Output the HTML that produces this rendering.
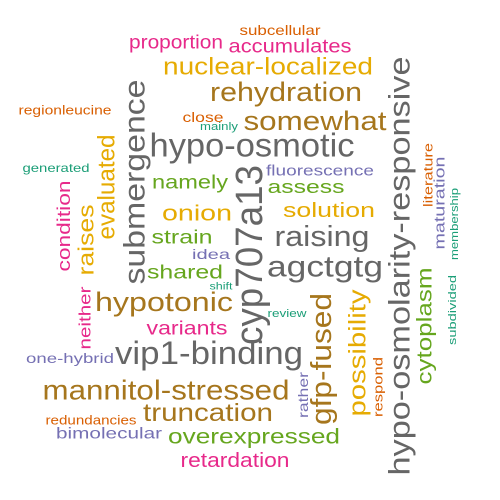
<!DOCTYPE html>
<html><head><meta charset="utf-8"><style>html,body{margin:0;padding:0;background:#fff}svg{display:block}text{font-family:"Liberation Sans",sans-serif}</style></head>
<body>
<svg id="cloud" width="500" height="500" viewBox="0 0 500 500"></svg>
<script>
const C={g:"#666666",b:"#A6761D",y:"#E6AB02",p:"#E7298A",o:"#D95F02",t:"#1B9E77",v:"#7570B3",n:"#66A61E"};
const words=["proportion","subcellular","accumulates","nuclear-localized","rehydration","somewhat","hypo-osmotic","regionleucine","close","mainly","generated","namely","fluorescence","assess","onion","solution","strain","raising","agctgtg","idea","shared","shift","hypotonic","variants","vip1-binding","one-hybrid","mannitol-stressed","truncation","redundancies","bimolecular","overexpressed","retardation","review","rather","respond","possibility","gfp-fused","hypo-osmolarity-responsive","cytoplasm","subdivided","membership","maturation","literature","cyp707a13","submergence","evaluated","raises","condition","neither"];
const colors=["p","o","p","y","b","b","g","o","o","t","t","n","v","n","y","y","n","g","g","v","n","t","b","p","g","v","b","b","o","v","n","p","t","v","o","y","b","g","n","t","t","v","o","g","g","y","y","p","p"];
const sizes=[19,14,19,24,27,27,33,13,14,11,12,19,15,18,22,20,19,29,30,14,19,10,27,19,32,14,28,25,13,16,21,20,11,14,13,24,29,30,21,11,11,15,13,38,30,24,22,18,17];
const cx=[176,280,290,268,286,315,252,65,203,219,56,190,320,306,197,329,182,322,325,211,185,221,164,187,209,70,166,208,91,109,254,235,287,303,378,358,322,400,425,453,455,440,428,250,135,107,86,64,85];
const cy=[43,30,47,67,92,121,145,110,117,127,168,183,171,187,213,211,238,237,267,254,273,287,302,329,353,358,390,413,420,434,437,461,314,395,387,353,359,266,326,310,224,203,175,255,182,187,240,226,318];
const rot=[0,0,0,0,0,0,0,0,0,0,0,0,0,0,0,0,0,0,0,0,0,0,0,0,0,0,0,0,0,0,0,0,0,1,1,1,1,1,1,1,1,1,1,1,1,1,1,1,1];
const lens=[94,81,123,210,152,143,205,93,41,38,67,76,108,77,70,92,61,95,116,38,76,23,138,81,188,88,247,130,91,106,172,109,39,46,60,127,132,419,117,70,72,93,64,180,205,105,71,91,63];
const svg=document.getElementById('cloud');
const NS="http://www.w3.org/2000/svg";
for(let i=0;i<words.length;i++){
  const t=document.createElementNS(NS,'text');
  
  
  t.setAttribute('x',0);t.setAttribute('y',0);
  t.setAttribute('text-anchor','middle');
  t.setAttribute('dominant-baseline','central');
  t.setAttribute('font-size',sizes[i]);
  t.setAttribute('fill',C[colors[i]]);
  t.setAttribute('textLength',lens[i]);
  t.setAttribute('lengthAdjust','spacingAndGlyphs');
  t.setAttribute('transform','translate('+cx[i]+','+cy[i]+')'+(rot[i]?' rotate(-90)':''));
  t.textContent=words[i];
  svg.appendChild(t);
}
</script>
</body></html>
